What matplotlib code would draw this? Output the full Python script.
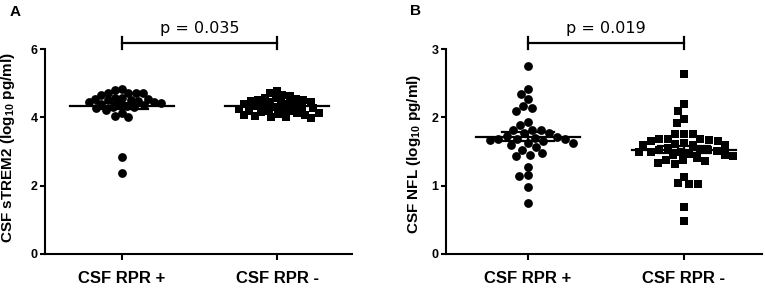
import numpy as np
import matplotlib
matplotlib.use("Agg")
import matplotlib.pyplot as plt

plt.rcParams['font.family'] = ['Liberation Sans', 'DejaVu Sans']
plt.rcParams['mathtext.fontset'] = 'custom'
plt.rcParams['mathtext.rm'] = 'Liberation Sans:bold'
plt.rcParams['mathtext.bf'] = 'Liberation Sans:bold'

# ---------------- data ----------------
categories = ["CSF RPR +", "CSF RPR -"]

strem2_pos = [4.82, 4.80, 4.72, 4.72, 4.71, 4.70, 4.66, 4.58, 4.56, 4.55, 4.54, 4.52,
              4.50, 4.48, 4.46, 4.45, 4.42, 4.40, 4.38, 4.36, 4.34, 4.30, 4.29, 4.27,
              4.22, 4.12, 4.04, 4.00, 2.85, 2.38]
strem2_neg = [4.78, 4.70, 4.64, 4.62, 4.58, 4.56, 4.55, 4.52, 4.50, 4.48, 4.46, 4.44,
              4.42, 4.40, 4.38, 4.36, 4.34, 4.32, 4.30, 4.28, 4.26, 4.24, 4.22, 4.20,
              4.20, 4.18, 4.16, 4.14, 4.12, 4.10, 4.08, 4.06, 4.04, 4.02, 4.00, 3.98]

nfl_pos = [2.75, 2.41, 2.34, 2.27, 2.16, 2.13, 2.09, 1.93, 1.89, 1.82, 1.82, 1.81,
           1.77, 1.77, 1.72, 1.71, 1.70, 1.69, 1.69, 1.68, 1.67, 1.66, 1.62, 1.62,
           1.60, 1.57, 1.52, 1.48, 1.45, 1.43, 1.28, 1.15, 1.14, 0.98, 0.74]
nfl_neg = [2.63, 2.19, 2.10, 1.98, 1.91, 1.76, 1.76, 1.75, 1.69, 1.69, 1.68, 1.67,
           1.66, 1.66, 1.62, 1.61, 1.60, 1.60, 1.59, 1.55, 1.53, 1.52, 1.52, 1.51,
           1.50, 1.50, 1.49, 1.46, 1.45, 1.45, 1.44, 1.40, 1.38, 1.37, 1.36, 1.33,
           1.32, 1.13, 1.04, 1.03, 1.02, 0.69, 0.49]

p_texts = ["p = 0.035", "p = 0.019"]
panel_labels = ["A", "B"]
ylabels = ["CSF sTREM2 (log$_{10}$ pg/ml)", "CSF NFL (log$_{10}$ pg/ml)"]
yticks_A = [0, 2, 4, 6]
yticks_B = [0, 1, 2, 3]

# ---------------- figure ----------------
W, H, DPI = 765, 289, 100
fig = plt.figure(figsize=(W / DPI, H / DPI), dpi=DPI)

axA = fig.add_axes([45 / W, 35 / H, 307 / W, 205 / H])
axB = fig.add_axes([446 / W, 35 / H, 316 / W, 205 / H])


def px_per_unit(ax):
    pos = ax.get_position()
    xl = ax.get_xlim()
    yl = ax.get_ylim()
    return (pos.width * W / (xl[1] - xl[0]), pos.height * H / (yl[1] - yl[0]))


def swarm(values, center, ax, dmin):
    """Beeswarm layout in pixel space: nearest-to-center non-overlapping x."""
    ppx, ppy = px_per_unit(ax)
    v = np.asarray(values, float)
    order = np.argsort(-v, kind='stable')
    ypx = v * ppy
    placed_x, placed_y = [], []
    xs = np.zeros_like(v)
    for i in order:
        y = ypx[i]
        intervals = []
        for px_, py_ in zip(placed_x, placed_y):
            dy = abs(py_ - y)
            if dy < dmin:
                hw = np.sqrt(dmin ** 2 - dy ** 2)
                intervals.append((px_ - hw, px_ + hw))
        cands = [0.0] + [a for a, b in intervals] + [b for a, b in intervals]
        cands = sorted(cands, key=lambda c: (abs(c), c))
        chosen = 0.0
        for c in cands:
            if all(not (a + 1e-6 < c < b - 1e-6) for a, b in intervals):
                chosen = c
                break
        placed_x.append(chosen)
        placed_y.append(y)
        xs[i] = center + chosen / ppx
    return xs, v


def panel(ax, g1, g2, ylim, yticks, ylabel, ptxt, xlim, label_x, label_y, dmin):
    ax.set_xlim(*xlim)
    ax.set_ylim(*ylim)
    for s in ['top', 'right']:
        ax.spines[s].set_visible(False)
    for s in ['left', 'bottom']:
        ax.spines[s].set_linewidth(1.5)
    ax.set_yticks(yticks)
    ax.set_yticklabels([str(t) for t in yticks], fontsize=9, fontweight='bold')
    ax.set_xticks([0, 1])
    ax.set_xticklabels(categories, fontsize=12, fontweight='bold')
    ax.tick_params(axis='y', length=3.8, width=1.5, pad=1.5)
    ax.tick_params(axis='x', length=4.5, width=1.5, pad=8)
    ax.set_ylabel(ylabel, fontsize=11, fontweight='bold')
    ax.yaxis.set_label_coords(label_x, label_y)

    ppx, ppy = px_per_unit(ax)
    x1, y1 = swarm(g1, 0, ax, dmin)
    x2, y2 = swarm(g2, 1, ax, dmin)
    ax.scatter(x1, y1, marker='o', s=40, color='black', linewidths=0, zorder=3, clip_on=False)
    ax.scatter(x2, y2, marker='s', s=36, color='black', linewidths=0, zorder=3, clip_on=False)

    for c, g in ((0, g1), (1, g2)):
        g = np.asarray(g)
        m = g.mean()
        sem = g.std(ddof=1) / np.sqrt(len(g))
        hw = 52 / ppx
        cw = 26 / ppx
        ax.plot([c - hw, c + hw], [m, m], color='black', lw=1.6, zorder=4)
        ax.plot([c - cw, c + cw], [m + sem, m + sem], color='black', lw=1.6, zorder=4)
        ax.plot([c - cw, c + cw], [m - sem, m - sem], color='black', lw=1.6, zorder=4)
        ax.plot([c, c], [m - sem, m + sem], color='black', lw=1.6, zorder=4)

    yb = ylim[1] + 6 / ppy
    cap = 6 / ppy
    ax.plot([0, 1], [yb, yb], color='black', lw=1.6, clip_on=False)
    ax.plot([0, 0], [yb - cap, yb + cap], color='black', lw=1.6, clip_on=False)
    ax.plot([1, 1], [yb - cap, yb + cap], color='black', lw=1.6, clip_on=False)
    ax.text(0.5, ylim[1] + 21 / ppy, ptxt, ha='center', va='center',
            fontsize=11.5, family='DejaVu Sans')


panel(axA, strem2_pos, strem2_neg, (0, 6), yticks_A, ylabels[0], p_texts[0],
      (-0.497, 1.483), -0.091, 0.52, 7.2)
panel(axB, nfl_pos, nfl_neg, (0, 3), yticks_B, ylabels[1], p_texts[1],
      (-0.524, 1.50), -0.073, 0.488, 8.7)

fig.text(15 / W, 1 - 11.5 / H, panel_labels[0], ha='center', va='center',
         fontsize=11, fontweight='bold')
fig.text(416 / W, 1 - 11 / H, panel_labels[1], ha='center', va='center',
         fontsize=11, fontweight='bold')

fig.savefig("out.png", dpi=DPI)
